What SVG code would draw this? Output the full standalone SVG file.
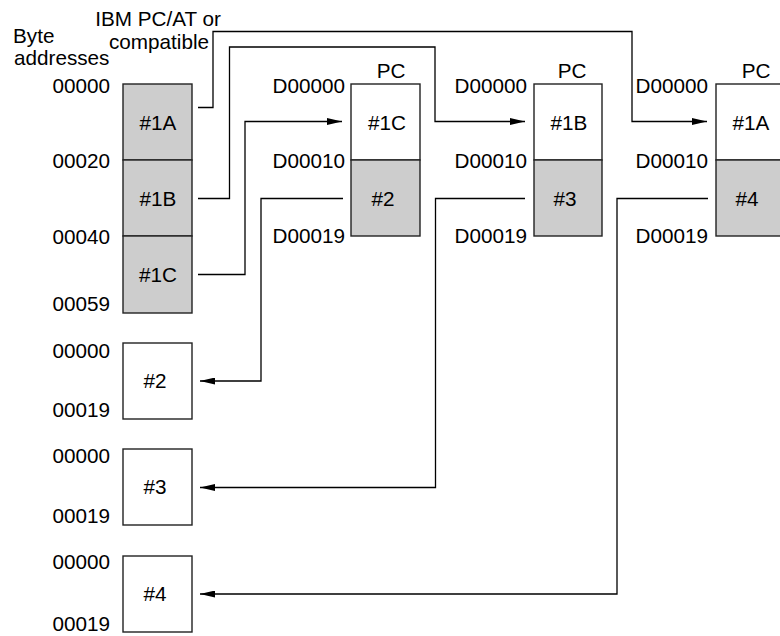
<svg xmlns="http://www.w3.org/2000/svg" width="780" height="636" viewBox="0 0 780 636">
<defs>
<marker id="ah" viewBox="0 0 15 7" refX="15" refY="3.5" markerWidth="15" markerHeight="7" markerUnits="userSpaceOnUse" orient="auto">
<path d="M0,0 L15,3.5 L0,7 Z" fill="#000"/>
</marker>
<style>
text{font-family:"Liberation Sans",Arial,sans-serif;font-size:20.7px;fill:#000}
.r{text-anchor:end}
.m{text-anchor:middle}
.w{fill:#fff;stroke:#222;stroke-width:1.4}
.g{fill:#cdcdcd;stroke:#222;stroke-width:1.4}
.c{fill:none;stroke:#000;stroke-width:1.3}
.a{marker-end:url(#ah)}
</style>
</defs>
<rect width="780" height="636" fill="#fff"/>

<g id="headings">
<text x="13" y="43">Byte</text>
<text x="14" y="65">addresses</text>
<text x="158" y="26" class="m">IBM PC/AT or</text>
<text x="159" y="49" class="m">compatible</text>
</g>

<g id="pc-at">
<rect class="g" x="123" y="84" width="69" height="76"/>
<rect class="g" x="123" y="160" width="69" height="76"/>
<rect class="g" x="123" y="236" width="69" height="77"/>
<text x="158" y="130" class="m">#1A</text>
<text x="158" y="206" class="m">#1B</text>
<text x="158" y="282" class="m">#1C</text>
<text x="110" y="93" class="r">00000</text>
<text x="110" y="168" class="r">00020</text>
<text x="110" y="244" class="r">00040</text>
<text x="110" y="311" class="r">00059</text>
</g>

<g id="pc1">
<rect class="w" x="351" y="84" width="69" height="76"/>
<rect class="g" x="351" y="160" width="69" height="76"/>
<text x="391" y="78" class="m">PC</text>
<text x="387" y="130" class="m">#1C</text>
<text x="383" y="206" class="m">#2</text>
<text x="345" y="93" class="r">D00000</text>
<text x="345" y="168" class="r">D00010</text>
<text x="345" y="243" class="r">D00019</text>
</g>

<g id="pc2">
<rect class="w" x="534" y="84" width="68" height="76"/>
<rect class="g" x="534" y="160" width="68" height="76"/>
<text x="572" y="78" class="m">PC</text>
<text x="569" y="130" class="m">#1B</text>
<text x="565" y="206" class="m">#3</text>
<text x="527" y="93" class="r">D00000</text>
<text x="527" y="168" class="r">D00010</text>
<text x="527" y="243" class="r">D00019</text>
</g>

<g id="pc3">
<rect class="w" x="716" y="84" width="69" height="76"/>
<rect class="g" x="716" y="160" width="69" height="76"/>
<text x="756" y="78" class="m">PC</text>
<text x="751" y="130" class="m">#1A</text>
<text x="747" y="206" class="m">#4</text>
<text x="708" y="93" class="r">D00000</text>
<text x="708" y="168" class="r">D00010</text>
<text x="708" y="243" class="r">D00019</text>
</g>

<g id="box2">
<rect class="w" x="123" y="343" width="69" height="76"/>
<text x="155" y="388" class="m">#2</text>
<text x="110" y="358" class="r">00000</text>
<text x="110" y="417" class="r">00019</text>
</g>

<g id="box3">
<rect class="w" x="123" y="449" width="69" height="76"/>
<text x="155" y="494" class="m">#3</text>
<text x="110" y="463" class="r">00000</text>
<text x="110" y="523" class="r">00019</text>
</g>

<g id="box4">
<rect class="w" x="123" y="556" width="69" height="76"/>
<text x="155" y="601" class="m">#4</text>
<text x="110" y="569" class="r">00000</text>
<text x="110" y="631" class="r">00019</text>
</g>

<g id="connectors">
<path class="c a" d="M198,107.5 H213 V31.5 H632 V121.5 H707"/>
<path class="c a" d="M198,198.5 H229.5 V47 H435 V121.5 H525"/>
<path class="c a" d="M198,274.5 H245 V121.5 H342"/>
<path class="c a" d="M343,198.5 H261 V381 H200"/>
<path class="c a" d="M525,198.5 H435.5 V487.5 H200"/>
<path class="c a" d="M708,198.5 H617 V594 H200"/>
</g>
</svg>
